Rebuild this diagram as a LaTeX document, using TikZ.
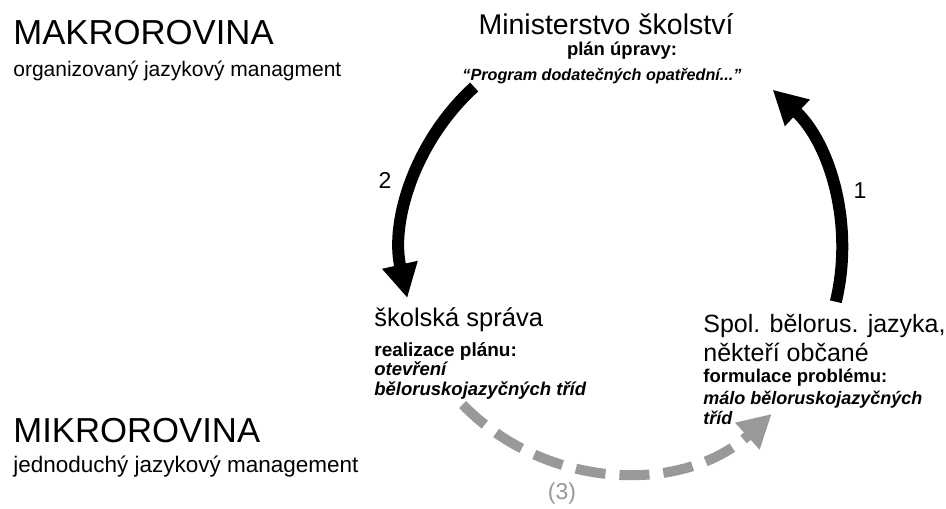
\documentclass[tikz,border=0pt]{standalone}
\usepackage{fontspec}
\setmainfont{Liberation Sans}
\usetikzlibrary{arrows.meta}
\definecolor{feedgray}{RGB}{153,153,153}
\tikzset{every picture/.style={line width=0.75pt},
  leveltxt/.style={anchor=base west,inner sep=0pt,font=\fontsize{34.7}{40}\selectfont},
  leveldesc/.style={anchor=base west,inner sep=0pt,font=\fontsize{22.5}{27}\selectfont},
  actortxt/.style={inner sep=0pt,font=\fontsize{25.5}{30}\selectfont},
  tasktxt/.style={inner sep=0pt,font=\bfseries\fontsize{19}{23}\selectfont},
  detailtxt/.style={inner sep=0pt,font=\bfseries\itshape\fontsize{18.5}{22}\selectfont},
  numtxt/.style={inner sep=0pt,font=\fontsize{23}{28}\selectfont},
  cyclearrow/.style={line width=12pt,-{Triangle[length=34pt,width=34pt]}},
  feedarrow/.style={color=feedgray,line width=10pt,dash pattern=on 30pt off 14pt,-{Triangle[length=33pt,width=34pt]}}}

\begin{document}
\begin{tikzpicture}[x=1pt,y=1pt,yscale=-1]
\useasboundingbox (0,0) rectangle (946,509);

%Centre of the cycle
\coordinate (cyc) at (622,250);
\path (cyc) ++(227.8:220) coordinate (planfrom);
\path (cyc) ++(13.6:220) coordinate (problemfrom);
\path (cyc) ++(135.9:222) coordinate (feedfrom);

%Arc 2: ministry -> school office
\draw [cyclearrow] (planfrom) arc[start angle=227.8,end angle=167.4,radius=220];
%Arc 1: citizens -> ministry
\draw [cyclearrow] (problemfrom) arc[start angle=13.6,end angle=-46.8,radius=220];
%Arc 3: school office -> citizens (dashed)
\draw [feedarrow] (feedfrom) arc[start angle=135.9,end angle=47.6,radius=222];

% Text Node
\node [leveltxt] (makro) at (13,44) {MAKROROVINA};
% Text Node
\node [leveldesc,font=\fontsize{21}{25}\selectfont] (makrodesc) at (13,76) {organizovaný jazykový managment};
% Text Node
\node [leveltxt] (mikro) at (13,442) {MIKROROVINA};
% Text Node
\node [leveldesc] (mikrodesc) at (13,472) {jednoduchý jazykový management};

% Text Node
\node [actortxt,font=\fontsize{28.5}{32}\selectfont,anchor=base,text depth=0pt] (ministr) at (606,34) {Ministerstvo školství};
% Text Node
\node [tasktxt,font=\bfseries\fontsize{18.5}{22}\selectfont,anchor=base] (plan) at (622,55) {plán úpravy:};
% Text Node
\node [detailtxt,font=\bfseries\itshape\fontsize{16.2}{20}\selectfont,anchor=base] (program) at (602,80) {“Program dodatečných opatřední...”};

% Text Node
\node [actortxt,anchor=base west] (sprava) at (374,326) {školská správa};
% Text Node
\node [tasktxt,anchor=base west] (realizace) at (374,356) {realizace plánu:};
% Text Node
\node [detailtxt,anchor=base west] (otevreni) at (374,375) {otevření};
% Text Node
\node [detailtxt,anchor=base west] (tridy) at (374,395) {běloruskojazyčných tříd};

% Text Node
\node [actortxt,font=\fontsize{25}{30}\selectfont,anchor=base west] (spol) at (703,332) {Spol. bělorus. jazyka,};
% Text Node
\node [actortxt,font=\fontsize{25}{30}\selectfont,anchor=base west] (obcane) at (703,361) {někteří občané};
% Text Node
\node [tasktxt,font=\bfseries\fontsize{18.5}{22}\selectfont,anchor=base west] (formulace) at (703,382) {formulace problému:};
% Text Node
\node [detailtxt,font=\bfseries\itshape\fontsize{18}{22}\selectfont,anchor=base west] (malo) at (703,404) {málo běloruskojazyčných};
% Text Node
\node [detailtxt,font=\bfseries\itshape\fontsize{18}{22}\selectfont,anchor=base west] (malotridy) at (703,424) {tříd};

% Text Node
\node [numtxt] (two) at (385,180) {2};
% Text Node
\node [numtxt] (one) at (860,191) {1};
% Text Node
\node [numtxt,text=feedgray] (three) at (562,494) {(3)};

\end{tikzpicture}
\end{document}
